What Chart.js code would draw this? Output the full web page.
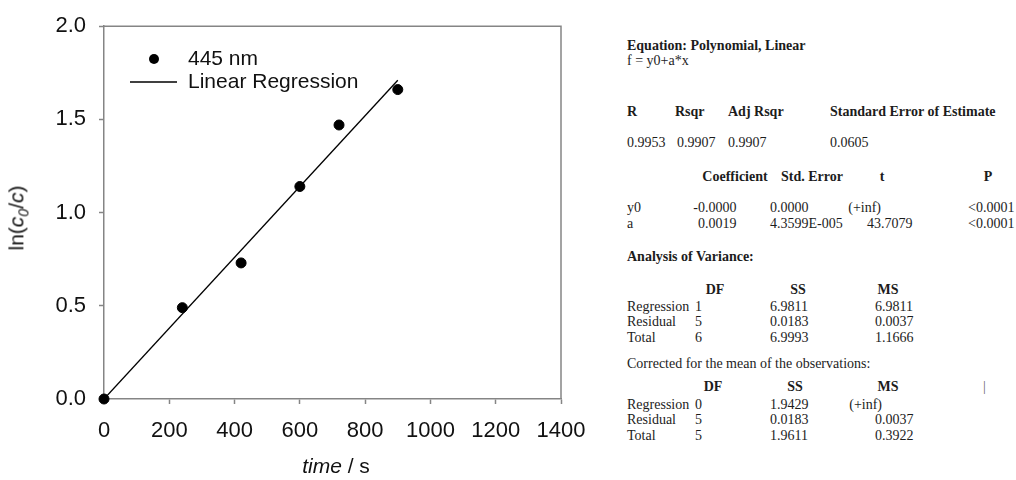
<!DOCTYPE html>
<html>
<head>
<meta charset="utf-8">
<script src="https://cdn.jsdelivr.net/npm/chart.js@4.4.1/dist/chart.umd.min.js"></script>
<style>
  html, body { margin: 0; padding: 0; background: #fff; }
  #wrap { position: relative; width: 1016px; height: 480px; overflow: hidden; }
  #plotBox { position: absolute; left: 0; top: 0; width: 600px; height: 480px; }
  .axisTitle { position: absolute; font-family: "Liberation Sans", Arial, sans-serif; font-size: 21px; color: #111; white-space: nowrap; line-height: 24px; }
  .t { position: absolute; font-family: "Liberation Serif", "Times New Roman", serif; font-size: 14px; line-height: 16px; color: #1c1c1c; white-space: nowrap; }
  .b { font-weight: bold; }
  .cell { position: absolute; width: 0; height: 16px; }
  .cell .ip { position: absolute; right: 0; top: 0; }
  .cell .fp { position: absolute; left: 0; top: 0; }
</style>
</head>
<body>
<div id="wrap">
  <div id="plotBox"><canvas id="plot" width="600" height="480"></canvas></div>
  <div class="axisTitle" id="yTitle">ln(<i>c</i><sub style="font-size:14px"><i>0</i></sub>/<i>c</i>)</div>
  <div class="axisTitle" id="xTitle"><i>time</i> / s</div>
</div>
<script>
// Measurements at 445 nm: time in seconds, ln(c0/c)
const times = [0, 240, 420, 600, 720, 900];
const lnRatio = [0, 0.49, 0.73, 1.14, 1.47, 1.66];

// Fitted model f = y0 + a*x
const y0 = 0.0;
const slopeA = 0.0019;

const xTicks = [0, 200, 400, 600, 800, 1000, 1200, 1400];
const yTicks = [0.0, 0.5, 1.0, 1.5, 2.0];

const seriesLabels = ['445 nm', 'Linear Regression'];

// Regression report
const reportTitle = 'Equation: Polynomial, Linear';
const reportEquation = 'f = y0+a*x';
const fitHeaders = ['R', 'Rsqr', 'Adj Rsqr', 'Standard Error of Estimate'];
const fitValues = ['0.9953', '0.9907', '0.9907', '0.0605'];
const coefHeaders = ['Coefficient', 'Std. Error', 't', 'P'];
const coefNames = ['y0', 'a'];
const coefValues = [
  ['-0.0000', '0.0000', '(+inf)', '<0.0001'],
  ['0.0019', '4.3599E-005', '43.7079', '<0.0001']
];
const anovaTitle = 'Analysis of Variance:';
const anovaHeaders = ['DF', 'SS', 'MS'];
const anovaRows = ['Regression', 'Residual', 'Total'];
const anovaValues = [
  ['1', '6.9811', '6.9811'],
  ['5', '0.0183', '0.0037'],
  ['6', '6.9993', '1.1666']
];
const correctedTitle = 'Corrected for the mean of the observations:';
const correctedValues = [
  ['0', '1.9429', '(+inf)'],
  ['5', '0.0183', '0.0037'],
  ['5', '1.9611', '0.3922']
];

const points = times.map((t, i) => ({ x: t, y: lnRatio[i] }));
const tEnd = times[times.length - 1];
const fitLine = [{ x: 0, y: y0 }, { x: tEnd, y: y0 + slopeA * tEnd }];

const AXIS_GREY = '#858585';
const TICK_FONT = { family: '"Liberation Sans", Arial, sans-serif', size: 22 };
const LEGEND_FONT = { family: '"Liberation Sans", Arial, sans-serif', size: 21 };

// closed frame around the plotting area
const frame = {
  id: 'frame',
  beforeDatasetsDraw(chart) {
    const { ctx, chartArea: a } = chart;
    ctx.save();
    ctx.strokeStyle = AXIS_GREY;
    ctx.lineWidth = 1.5;
    ctx.beginPath();
    ctx.moveTo(a.left, a.top);
    ctx.lineTo(a.right, a.top);
    ctx.lineTo(a.right, a.bottom);
    ctx.stroke();
    ctx.restore();
  }
};

// legend drawn inside the plot, upper left
const innerLegend = {
  id: 'innerLegend',
  afterDatasetsDraw(chart, args, opts) {
    const { ctx } = chart;
    ctx.save();
    ctx.font = `${LEGEND_FONT.size}px ${LEGEND_FONT.family}`;
    ctx.fillStyle = '#111';
    ctx.textBaseline = 'middle';
    chart.data.datasets.forEach((ds, i) => {
      const y = opts.rows[i];
      if (ds.showLine) {
        ctx.strokeStyle = ds.borderColor;
        ctx.lineWidth = ds.borderWidth;
        ctx.beginPath();
        ctx.moveTo(opts.lineFrom, y);
        ctx.lineTo(opts.lineTo, y);
        ctx.stroke();
      } else {
        ctx.beginPath();
        ctx.arc(opts.marker, y, ds.pointRadius, 0, Math.PI * 2);
        ctx.fillStyle = ds.backgroundColor;
        ctx.fill();
        ctx.fillStyle = '#111';
      }
      ctx.fillText(ds.label, opts.text, y);
    });
    ctx.restore();
  }
};

new Chart(document.getElementById('plot'), {
  type: 'scatter',
  data: {
    datasets: [
      {
        label: seriesLabels[0],
        data: points,
        backgroundColor: '#000',
        borderColor: '#000',
        pointRadius: 5,
        pointHoverRadius: 5,
        showLine: false,
        clip: false
      },
      {
        label: seriesLabels[1],
        data: fitLine,
        showLine: true,
        borderColor: '#000',
        borderWidth: 1.3,
        pointRadius: 0,
        fill: false
      }
    ]
  },
  options: {
    responsive: false,
    animation: false,
    events: [],
    layout: { padding: { top: 25, right: 39, left: 0, bottom: 0 } },
    plugins: {
      legend: { display: false },
      tooltip: { enabled: false },
      innerLegend: { marker: 154, lineFrom: 130, lineTo: 177, text: 188, rows: [59, 82] }
    },
    scales: {
      x: {
        type: 'linear',
        min: xTicks[0],
        max: xTicks[xTicks.length - 1],
        afterFit(s) { s.height = 81; },
        afterBuildTicks(s) { s.ticks = xTicks.map(v => ({ value: v })); },
        border: { display: true, color: AXIS_GREY, width: 1.5 },
        grid: { display: true, drawOnChartArea: false, drawTicks: true, tickLength: 5, tickColor: AXIS_GREY, tickWidth: 1.5 },
        ticks: { color: '#111', font: TICK_FONT, padding: 14, maxRotation: 0, callback: v => String(v) }
      },
      y: {
        type: 'linear',
        min: yTicks[0],
        max: yTicks[yTicks.length - 1],
        afterFit(s) { s.width = 104; },
        afterBuildTicks(s) { s.ticks = yTicks.map(v => ({ value: v })); },
        border: { display: true, color: AXIS_GREY, width: 1.5 },
        grid: { display: true, drawOnChartArea: false, drawTicks: true, tickLength: 5, tickColor: AXIS_GREY, tickWidth: 1.5 },
        ticks: { color: '#111', font: TICK_FONT, padding: 13, callback: v => Number(v).toFixed(1) }
      }
    }
  },
  plugins: [frame, innerLegend]
});

// axis titles
const yTitle = document.getElementById('yTitle');
yTitle.style.left = '20px';
yTitle.style.top = '218px';
yTitle.style.transform = 'translate(-50%, -50%) rotate(-90deg)';
const xTitle = document.getElementById('xTitle');
xTitle.style.left = '336px';
xTitle.style.top = '466px';
xTitle.style.transform = 'translate(-50%, -50%)';

// regression report text
const wrap = document.getElementById('wrap');
function put(text, x, cy, opt = {}) {
  const d = document.createElement('div');
  d.className = 't' + (opt.bold ? ' b' : '');
  d.textContent = text;
  d.style.top = (cy - 8) + 'px';
  d.style.left = x + 'px';
  if (opt.center) d.style.transform = 'translateX(-50%)';
  if (opt.color) d.style.color = opt.color;
  wrap.appendChild(d);
}
// decimal tab: the part before '.' ends at x, the rest starts there
function putDec(text, x, cy) {
  const c = document.createElement('div');
  c.className = 'cell t';
  c.style.left = x + 'px';
  c.style.top = (cy - 8) + 'px';
  const k = text.indexOf('.');
  const ip = document.createElement('span');
  ip.className = 'ip';
  ip.textContent = k < 0 ? text : text.slice(0, k);
  c.appendChild(ip);
  if (k >= 0) {
    const fp = document.createElement('span');
    fp.className = 'fp';
    fp.textContent = text.slice(k);
    c.appendChild(fp);
  }
  wrap.appendChild(c);
}

const L = 627;
put(reportTitle, L, 46, { bold: true });
put(reportEquation, L, 61);

const fitHeadCols = [627, 675, 728, 830];
const fitValCols = [627, 677, 728, 830];
fitHeaders.forEach((h, i) => put(h, fitHeadCols[i], 112, { bold: true }));
fitValues.forEach((v, i) => put(v, fitValCols[i], 143));

const coefHeadCenters = [735, 812, 882, 988];
coefHeaders.forEach((h, i) => put(h, coefHeadCenters[i], 177, { bold: true, center: true }));
const coefTabs = [705, 777, 881, 983];
[208, 224].forEach((cy, r) => {
  put(coefNames[r], L, cy);
  coefValues[r].forEach((v, i) => putDec(v, coefTabs[i], cy));
});

put(anovaTitle, L, 257, { bold: true });
const anovaTabs = [702, 777, 882];
anovaHeaders.forEach((h, i) => put(h, [715, 798, 888][i], 290, { bold: true, center: true }));
[307, 322, 338].forEach((cy, r) => {
  put(anovaRows[r], L, cy);
  anovaValues[r].forEach((v, i) => putDec(v, anovaTabs[i], cy));
});

put(correctedTitle, L, 364);
anovaHeaders.forEach((h, i) => put(h, [713, 795, 888][i], 387, { bold: true, center: true }));
put('|', 983, 387, { color: '#666' });
[405, 420, 436].forEach((cy, r) => {
  put(anovaRows[r], L, cy);
  correctedValues[r].forEach((v, i) => putDec(v, anovaTabs[i], cy));
});
</script>
</body>
</html>
